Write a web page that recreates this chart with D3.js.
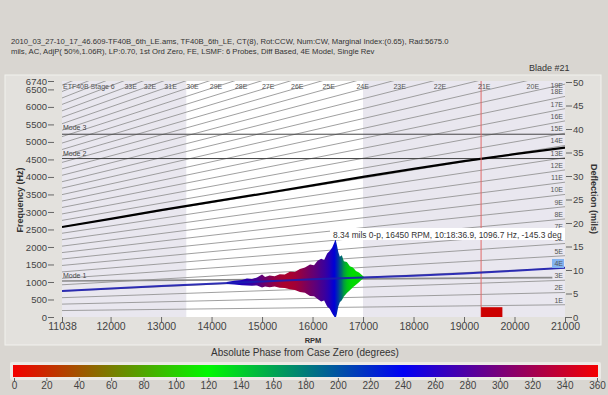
<!DOCTYPE html>
<html>
<head>
<meta charset="utf-8">
<script src="https://d3js.org/d3.v7.min.js"></script>
<style>
  body { margin: 0; background: #d9d6d1; font-family: "Liberation Sans", Arial, sans-serif; }
  svg { display: block; }
</style>
</head>
<body>
<div id="chart"></div>
<script>
// header text
const headerLines = [
  "2010_03_27-10_17_46.609-TF40B_6th_LE.ams, TF40B_6th_LE, CT(8), Rot:CCW, Num:CW, Marginal Index:(0.65), Rad:5675.0",
  "mils, AC, AdjP( 50%,1.06R), LP:0.70, 1st Ord Zero, FE, LSMF:  6 Probes, Diff Based, 4E Model, Single Rev"
];
const bladeLabel = "Blade #21";
const stageLabel = "ETF40B Stage 6";
const noteText = "8.34 mils 0-p, 16450 RPM, 10:18:36.9, 1096.7 Hz, -145.3 deg";

// ticks
const freqTicks = [0, 500, 1000, 1500, 2000, 2500, 3000, 3500, 4000, 4500, 5000, 5500, 6000, 6500, 6740];
const rpmTicks = [11038, 12000, 13000, 14000, 15000, 16000, 17000, 18000, 19000, 20000, 21000];
const deflTicks = [0, 5, 10, 15, 20, 25, 30, 35, 40, 45, 50];
const phaseTicks = [0, 20, 40, 60, 80, 100, 120, 140, 160, 180, 200, 220, 240, 260, 280, 300, 320, 340, 360];

// engine orders
const engineOrders = [1,2,3,4,5,6,7,8,9,10,11,12,13,14,15,16,17,18,19,20,21,22,23,24,25,26,27,28,29,30,31,32,33,34,35,36,37,38,39,40];
const topOrderLabels = [33,32,31,30,29,28,27,26,25,24,23,22,21,20];
const rightOrderLabels = [1,2,3,4,5,6,7,8,9,10,11,12,13,14,15,16,17,18,19];
const highlightedOrder = 4;

// shaded / analysed RPM window
const windowRpm = [13500, 17000];
const cursorRpm = 19338;
const markerRpm = [19338, 19760];
const markerFreq = [0, 280];

// modes
const modeNames = ["Mode 1", "Mode 2", "Mode 3"];
const mode1Rpm = [11038, 20750];
const mode1Freq = [1030, 1125];
const mode2Freq = 4525;
const mode3Freq = 5220;

// black frequency line
const blackRpm  = [11038, 12000, 13000, 14000, 15000, 16000, 17000, 18000, 19000, 20000, 21000];
const blackFreq = [2570, 2800, 3050, 3290, 3520, 3760, 4000, 4230, 4450, 4650, 4840];

// blue tracked line
const blueRpm  = [11038, 12000, 13000, 14000, 15000, 16000, 17000, 18000, 19000, 20000, 21000];
const blueFreq = [743, 815, 885, 950, 1015, 1075, 1130, 1180, 1245, 1320, 1405];

// burst envelope (mils 0-p) and phase (deg)
const burstRpm   = [14300, 14450, 14600, 14700, 14800, 14900, 15000, 15060, 15150, 15250, 15350, 15450, 15550, 15650, 15750, 15850, 15950, 16030, 16100, 16170, 16230, 16290, 16340, 16390, 16430, 16455, 16480, 16510, 16540, 16580, 16620, 16680, 16740, 16800, 16860, 16920, 16970, 17020];
const burstUp    = [0.2, 0.4, 0.5, 0.8, 0.6, 0.9, 1.5, 0.9, 1.2, 1.0, 1.4, 1.3, 1.8, 1.7, 2.3, 2.6, 3.2, 3.0, 3.9, 4.3, 4.0, 5.4, 5.9, 6.6, 7.6, 8.34, 7.2, 5.6, 4.6, 4.9, 3.6, 3.4, 2.5, 2.2, 1.4, 1.1, 0.6, 0.1];
const burstLow   = [0.2, 0.4, 0.6, 0.7, 0.8, 0.8, 1.3, 1.1, 1.3, 1.2, 1.5, 1.6, 1.9, 2.1, 2.6, 2.8, 3.5, 3.6, 4.2, 4.8, 4.6, 5.9, 6.4, 7.4, 8.1, 8.6, 7.6, 6.0, 5.1, 4.7, 3.9, 3.2, 2.6, 2.0, 1.5, 1.0, 0.5, 0.1];
const burstPhase = [250, 252, 258, 262, 270, 280, 295, 302, 312, 322, 330, 335, 334, 330, 322, 312, 302, 295, 288, 280, 274, 266, 258, 248, 240, 232, 222, 210, 195, 178, 155, 135, 125, 120, 118, 118, 118, 118];

const W = 608, H = 395;
const plot = { left: 62, right: 565, top: 81, bottom: 317 };

const svg = d3.select("#chart").append("svg").attr("width", W).attr("height", H);

const x = d3.scaleLinear().domain([11038, 21000]).range([plot.left, plot.right]);
const y = d3.scaleLinear().domain([0, 6740]).range([plot.bottom, plot.top]);
const yR = d3.scaleLinear().domain([0, 50]).range([plot.bottom, plot.top + 1]);
const phaseColor = d3.scaleLinear().domain([0, 120, 240, 360])
  .range(["#f40000", "#00f800", "#0000f4", "#f40000"]);
const blueAt = d3.scaleLinear().domain(blueRpm).range(blueFreq);

// background panel
svg.append("rect").attr("width", W).attr("height", H).attr("fill", "#d9d6d1");
svg.append("rect").attr("x", 5).attr("y", 75).attr("width", 596).attr("height", 270)
  .attr("fill", "#e3e1dd").attr("stroke", "#f2f1ee");

// header
svg.append("g").selectAll("text").data(headerLines).join("text")
  .attr("x", 11).attr("y", (d, i) => 44 + i * 10)
  .attr("font-size", 7.7).attr("fill", "#333").text(d => d);
svg.append("text").attr("x", 529).attr("y", 71).attr("font-size", 9).attr("fill", "#333").text(bladeLabel);

// plot background
const defs = svg.append("defs");
defs.append("clipPath").attr("id", "clip").append("rect")
  .attr("x", plot.left).attr("y", plot.top)
  .attr("width", plot.right - plot.left).attr("height", plot.bottom - plot.top);

const g = svg.append("g").attr("clip-path", "url(#clip)");
g.append("rect").attr("x", plot.left).attr("y", plot.top)
  .attr("width", plot.right - plot.left).attr("height", plot.bottom - plot.top)
  .attr("fill", "#e9e7ef");
g.append("rect").attr("x", x(windowRpm[0])).attr("y", plot.top)
  .attr("width", x(windowRpm[1]) - x(windowRpm[0])).attr("height", plot.bottom - plot.top)
  .attr("fill", "#ffffff");

// engine order lines
const dom = x.domain();
g.append("g").selectAll("line").data(engineOrders).join("line")
  .attr("x1", x(dom[0])).attr("y1", k => y(k * dom[0] / 60))
  .attr("x2", x(dom[1])).attr("y2", k => y(k * dom[1] / 60))
  .attr("stroke", "#959595").attr("stroke-width", 0.9);

// mode lines
g.append("line").attr("x1", plot.left).attr("x2", plot.right)
  .attr("y1", y(mode3Freq)).attr("y2", y(mode3Freq)).attr("stroke", "#444").attr("stroke-width", 1);
g.append("line").attr("x1", plot.left).attr("x2", plot.right)
  .attr("y1", y(mode2Freq)).attr("y2", y(mode2Freq)).attr("stroke", "#444").attr("stroke-width", 1);
g.append("line").attr("x1", x(mode1Rpm[0])).attr("x2", x(mode1Rpm[1]))
  .attr("y1", y(mode1Freq[0])).attr("y2", y(mode1Freq[1])).attr("stroke", "#8a8a8a").attr("stroke-width", 1.6);

// black line
const line = d3.line().x(d => x(d[0])).y(d => y(d[1]));
g.append("path").datum(blackRpm.map((r, i) => [r, blackFreq[i]]))
  .attr("d", line).attr("fill", "none").attr("stroke", "#000").attr("stroke-width", 2.2);

// cursor
g.append("line").attr("x1", x(cursorRpm)).attr("x2", x(cursorRpm))
  .attr("y1", plot.top).attr("y2", plot.bottom).attr("stroke", "#e06a6a").attr("stroke-width", 1);
g.append("rect").attr("x", x(markerRpm[0])).attr("y", y(markerFreq[1]))
  .attr("width", x(markerRpm[1]) - x(markerRpm[0])).attr("height", y(markerFreq[0]) - y(markerFreq[1]))
  .attr("fill", "#cc0000");

// burst
const x0 = x(burstRpm[0]), x1 = x(burstRpm[burstRpm.length - 1]);
const grad = defs.append("linearGradient").attr("id", "burstGrad")
  .attr("gradientUnits", "userSpaceOnUse").attr("x1", x0).attr("x2", x1).attr("y1", 0).attr("y2", 0);
grad.selectAll("stop").data(burstRpm).join("stop")
  .attr("offset", r => (x(r) - x0) / (x1 - x0))
  .attr("stop-color", (r, i) => d3.color(phaseColor(burstPhase[i])).darker(0.35));
const px = v => yR(0) - yR(v);
const area = d3.area()
  .x(d => x(d))
  .y0((d, i) => y(blueAt(d)) + px(burstLow[i]))
  .y1((d, i) => y(blueAt(d)) - px(burstUp[i]));
g.append("path").datum(burstRpm).attr("d", area).attr("fill", "url(#burstGrad)");

// blue line
g.append("path").datum(blueRpm.map((r, i) => [r, blueFreq[i]]))
  .attr("d", line).attr("fill", "none").attr("stroke", "#1c1cb0").attr("stroke-width", 2).attr("stroke-opacity", 0.9);

// labels inside plot
const lab = svg.append("g").attr("font-size", 7).attr("fill", "#555");
lab.append("text").attr("x", 63).attr("y", 89).text(stageLabel);
lab.selectAll(".top").data(topOrderLabels).join("text").attr("class", "top")
  .attr("x", k => x(6740 * 60 / k) + 1).attr("y", 89).text(k => k + "E");
lab.append("rect")
  .attr("x", 552).attr("y", y(highlightedOrder * dom[1] / 60) - 9)
  .attr("width", 12).attr("height", 9).attr("fill", "#84b4f0");
lab.selectAll(".right").data(rightOrderLabels).join("text").attr("class", "right")
  .attr("text-anchor", "end").attr("x", 563)
  .attr("y", k => Math.max(y(k * dom[1] / 60) - 2, plot.top + 7)).text(k => k + "E");
const modeY = [y(mode1Freq[0]) - 3, y(mode2Freq) - 3, y(mode3Freq) - 4];
lab.selectAll(".mode").data(modeNames).join("text").attr("class", "mode")
  .attr("x", 63).attr("y", (d, i) => modeY[i]).attr("fill", "#444").text(d => d);

// annotation
svg.append("rect").attr("x", 330).attr("y", 228).attr("width", 235).attr("height", 12).attr("fill", "#fff");
svg.append("text").attr("x", 333).attr("y", 237.5).attr("font-size", 8.4).attr("fill", "#333").text(noteText);

// axes
function styleAxis(sel, size) {
  sel.select(".domain").remove();
  sel.selectAll(".tick line").attr("stroke", "#666");
  sel.selectAll(".tick text").attr("fill", "#444").attr("font-size", size)
    .attr("font-family", '"Liberation Sans", Arial, sans-serif');
}
svg.append("g").attr("transform", `translate(54,0)`)
  .call(d3.axisLeft(y).tickValues(freqTicks).tickFormat(d3.format("d")).tickSize(6).tickPadding(1))
  .call(s => styleAxis(s, 9.5));
svg.append("g").attr("transform", `translate(0,${plot.bottom})`)
  .call(d3.axisBottom(x).tickValues(rpmTicks).tickFormat(d3.format("d")).tickSize(5).tickPadding(1))
  .call(s => styleAxis(s, 10.5));
svg.append("g").attr("transform", `translate(566,0)`)
  .call(d3.axisRight(yR).tickValues(deflTicks).tickSize(6).tickPadding(1))
  .call(s => styleAxis(s, 9.5));

// axis titles
svg.append("text").attr("transform", "translate(23,200) rotate(-90)").attr("text-anchor", "middle")
  .attr("font-size", 9).attr("font-weight", "bold").attr("fill", "#333").text("Frequency (Hz)");
svg.append("text").attr("transform", "translate(591,199) rotate(90)").attr("text-anchor", "middle")
  .attr("font-size", 9).attr("font-weight", "bold").attr("fill", "#333").text("Deflection (mils)");
svg.append("text").attr("x", 313).attr("y", 343).attr("text-anchor", "middle")
  .attr("font-size", 7.5).attr("font-weight", "bold").attr("fill", "#333").text("RPM");
svg.append("text").attr("x", 305).attr("y", 356).attr("text-anchor", "middle")
  .attr("font-size", 10).attr("fill", "#333").text("Absolute Phase from Case Zero (degrees)");

// colour bar
const cx = d3.scaleLinear().domain([0, 360]).range([14, 597]);
const cgrad = defs.append("linearGradient").attr("id", "phaseGrad");
cgrad.selectAll("stop").data(phaseTicks).join("stop")
  .attr("offset", d => d / 360).attr("stop-color", d => phaseColor(d));
svg.append("rect").attr("x", 10).attr("y", 362).attr("width", 591).attr("height", 18)
  .attr("fill", "#eceae6").attr("rx", 2);
svg.append("rect").attr("x", cx(0) - 1).attr("y", 365).attr("width", cx(360) - cx(0) + 2).attr("height", 12)
  .attr("fill", "url(#phaseGrad)");
svg.append("g").attr("transform", "translate(0,378)")
  .call(d3.axisBottom(cx).tickValues(phaseTicks).tickSize(3).tickPadding(1))
  .call(s => styleAxis(s, 10));
</script>
</body>
</html>
